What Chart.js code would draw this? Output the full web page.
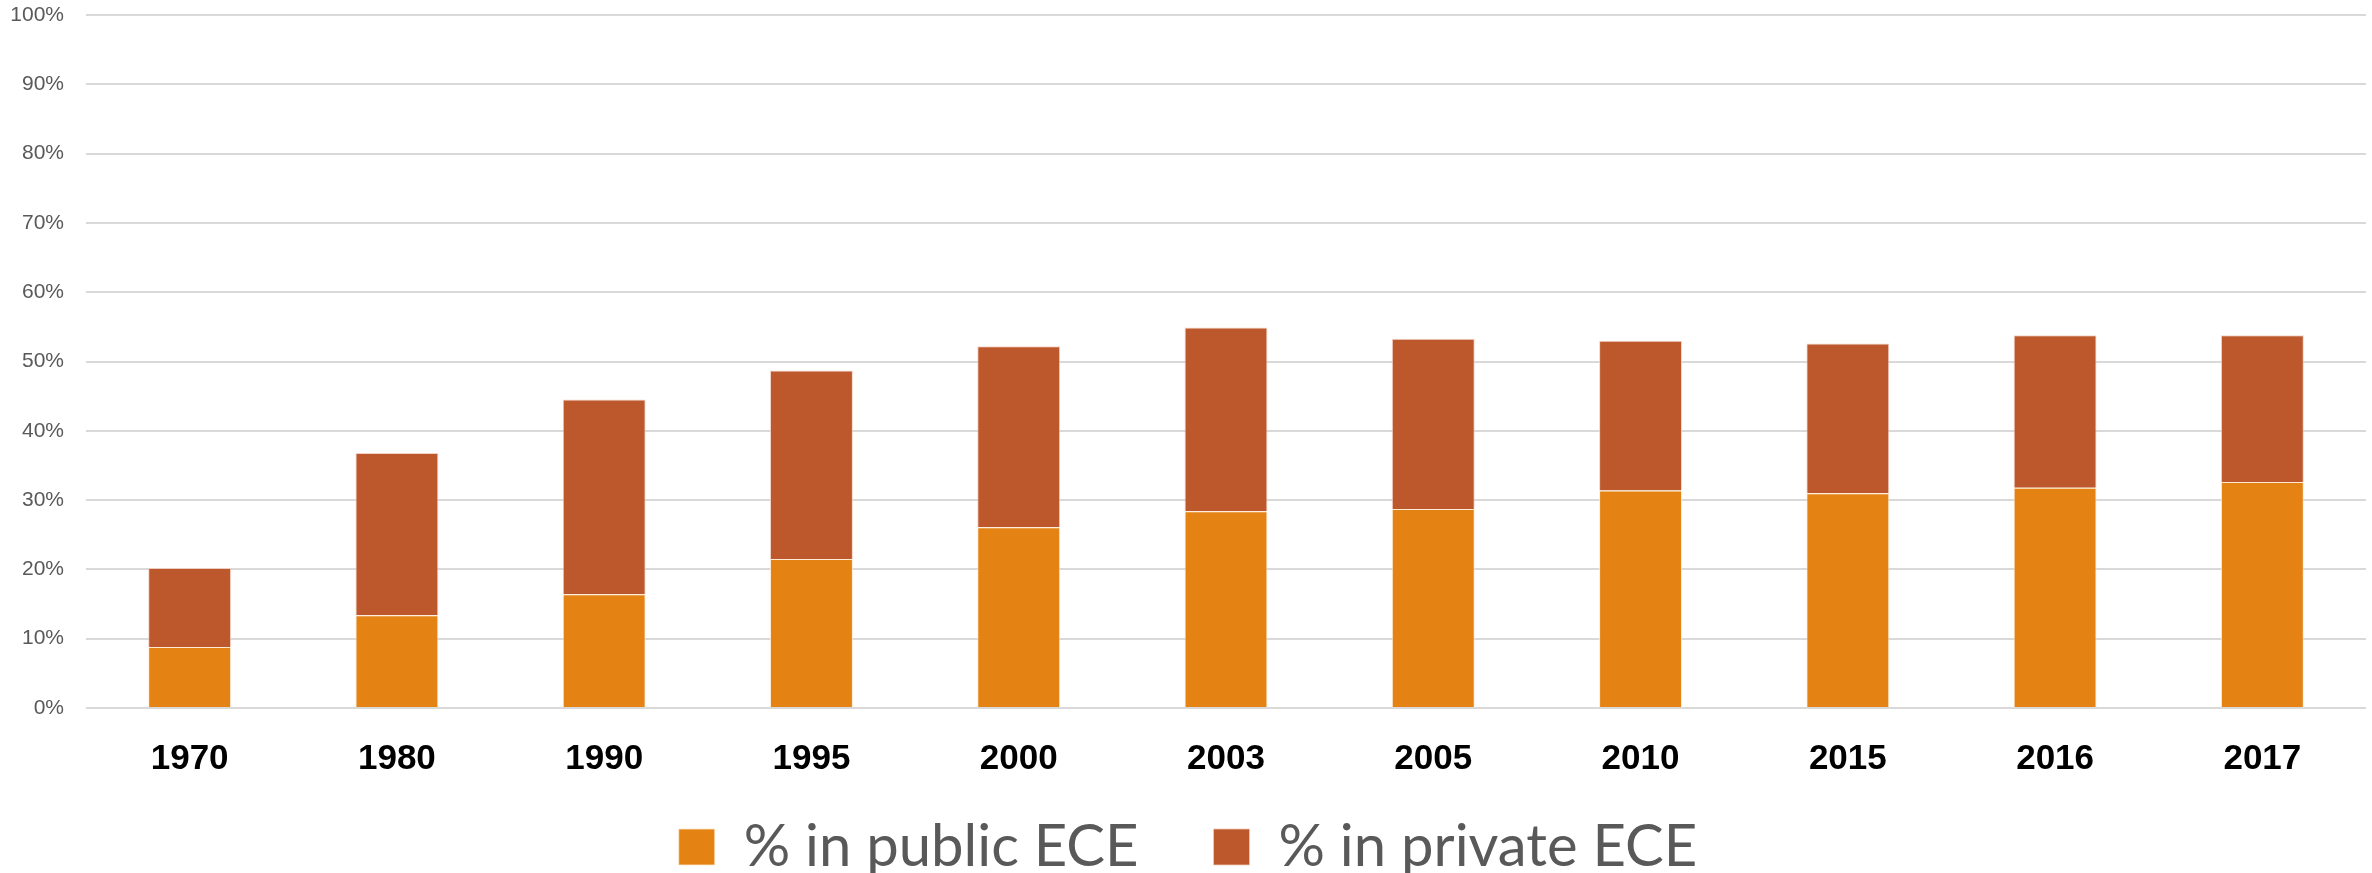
<!DOCTYPE html>
<html>
<head>
<meta charset="utf-8">
<script src="https://cdn.jsdelivr.net/npm/chart.js@4/dist/chart.umd.min.js"></script>
<style>
    html, body { margin: 0; padding: 0; background: #fff; }
    #wrap { width: 2372px; height: 873px; }
</style>
</head>
<body>
<div id="wrap"><canvas id="eceChart"></canvas></div>
<script>
const years = ["1970", "1980", "1990", "1995", "2000", "2003", "2005", "2010", "2015", "2016", "2017"];
const publicShare = [8.8, 13.4, 16.4, 21.5, 26.1, 28.4, 28.7, 31.4, 31.0, 31.8, 32.6];
const privateShare = [11.4, 23.4, 28.1, 27.2, 26.1, 26.5, 24.6, 21.6, 21.6, 22.0, 21.2];
const seriesNames = ["% in public ECE", "% in private ECE"];

document.addEventListener("DOMContentLoaded", () => {
    const eceChart = new Chart(document.getElementById("eceChart"), {
        type: "bar",
        data: {
            labels: years,
            datasets: [{
                label: seriesNames[0],
                data: publicShare,
                backgroundColor: "#E48213",
                borderColor: "rgba(255,230,200,0.8)",
                borderWidth: 1,
                borderSkipped: "bottom"
            }, {
                label: seriesNames[1],
                data: privateShare,
                backgroundColor: "#BD582C",
                borderColor: "rgba(240,200,185,0.8)",
                borderWidth: 1,
                borderSkipped: "bottom"
            }]
        },
        options: {
            responsive: true,
            maintainAspectRatio: false,
            animation: false,
            categoryPercentage: 1,
            barPercentage: 0.4,
            layout: { padding: { left: 10, right: 6, top: 5, bottom: 0 } },
            plugins: {
                tooltip: { enabled: false },
                legend: {
                    position: "bottom",
                    // wide gap between the two entries, box capped so the row sits low
                    maxHeight: 130,
                    labels: {
                        boxWidth: 36,
                        boxHeight: 36,
                        padding: 75,
                        color: "#595959",
                        font: { family: "Lato", size: 58 }
                    }
                }
            },
            scales: {
                x: {
                    stacked: true,
                    grid: { display: false, drawTicks: false },
                    border: { display: false },
                    ticks: {
                        // mirrored labels are not clipped to the axis box,
                        // so they can hang below it into the legend margin
                        mirror: true,
                        padding: -72,
                        color: "#000",
                        font: { family: "Liberation Sans", size: 35, weight: "bold" }
                    },
                    afterFit: scale => {
                        scale.height = 35;
                    }
                },
                y: {
                    stacked: true,
                    min: 0,
                    max: 100,
                    grid: { color: "#D9D9D9", lineWidth: 2, drawTicks: false },
                    border: { display: false },
                    ticks: {
                        stepSize: 10,
                        padding: 22,
                        color: "#595959",
                        font: { family: "Liberation Sans", size: 21 },
                        callback: v => v + "%"
                    },
                    // keep the axis tight: label width plus one padding
                    afterFit: scale => {
                        scale.width = 76;
                        scale.paddingTop = 15;
                        scale.paddingBottom = 10;
                    }
                }
            }
        }
    });
});
</script>
</body>
</html>
